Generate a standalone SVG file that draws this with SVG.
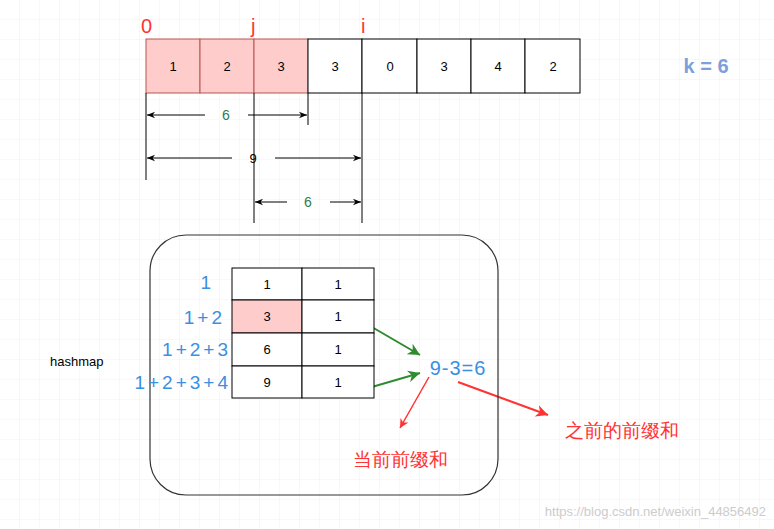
<svg xmlns="http://www.w3.org/2000/svg" width="774" height="529" viewBox="0 0 774 529">
<defs>
<style>
text{font-family:"Liberation Sans",Arial,sans-serif}
.c{fill:#fff;stroke:#000;stroke-width:1}
.p{fill:#ffcccc;stroke:#b85450;stroke-width:1}
.n{font-size:13px;text-anchor:middle;fill:#000}
.r{fill:#f33;font-size:20px}
.b{fill:#3b8fe0;font-size:19px;text-anchor:end;letter-spacing:3px}
.g{fill:#2e7d4f;font-size:14px;text-anchor:middle}
.l{stroke:#000;stroke-width:1;fill:none}
</style>
<marker id="a" viewBox="0 0 10 10" refX="10" refY="5" markerWidth="8" markerHeight="8" orient="auto"><path d="M0,1 L10,5 L0,9 L3,5z" fill="#000"/></marker>
<marker id="ag" viewBox="0 0 10 10" refX="10" refY="5" markerWidth="6" markerHeight="6" orient="auto"><path d="M0,0 L10,5 L0,10 L3,5z" fill="#2e8b2e"/></marker>
<marker id="ar" viewBox="0 0 10 10" refX="10" refY="5" markerWidth="6" markerHeight="6" orient="auto"><path d="M0,0 L10,5 L0,10 L3,5z" fill="#f33"/></marker>
<pattern id="grid" width="20" height="20" patternUnits="userSpaceOnUse"><path d="M20,0 V20 H0" fill="none" stroke="#f0f0f0"/></pattern>
</defs>
<rect width="774" height="529" fill="#fff"/>
<rect width="774" height="529" fill="url(#grid)"/>
<g id="array">
<rect class="p" x="146" y="39" width="54" height="54"/><text class="n" x="173" y="71">1</text>
<rect class="p" x="200" y="39" width="54" height="54"/><text class="n" x="227" y="71">2</text>
<rect class="p" x="254" y="39" width="54" height="54"/><text class="n" x="281" y="71">3</text>
<rect class="c" x="308" y="39" width="54" height="54"/><text class="n" x="335" y="71">3</text>
<rect class="c" x="362" y="39" width="55" height="54"/><text class="n" x="390" y="71">0</text>
<rect class="c" x="417" y="39" width="54" height="54"/><text class="n" x="444" y="71">3</text>
<rect class="c" x="471" y="39" width="54" height="54"/><text class="n" x="498" y="71">4</text>
<rect class="c" x="525" y="39" width="55" height="54"/><text class="n" x="553" y="71">2</text>
</g>
<g id="indices">
<text class="r" x="141" y="33">0</text>
<text class="r" x="251" y="33">j</text>
<text class="r" x="361" y="33">i</text>
<text x="706" y="73" font-size="20" font-weight="bold" fill="#7e9fd9" text-anchor="middle">k = 6</text>
</g>
<g id="connectors">
<path class="l" d="M146,93V180M254,93V223M308,93V125M362,93V223"/>
<path class="l" d="M205,115H147" marker-end="url(#a)"/><path class="l" d="M248,115H307" marker-end="url(#a)"/>
<text class="g" x="226" y="120">6</text>
<path class="l" d="M232,158H147" marker-end="url(#a)"/><path class="l" d="M275,158H361" marker-end="url(#a)"/>
<text class="n" x="253" y="163" font-size="14">9</text>
<path class="l" d="M287,202H255" marker-end="url(#a)"/><path class="l" d="M330,202H361" marker-end="url(#a)"/>
<text class="g" x="308" y="207">6</text>
<path d="M365,323L420,355" stroke="#2e8b2e" stroke-width="2" marker-end="url(#ag)"/>
<path d="M365,389L420,373" stroke="#2e8b2e" stroke-width="2" marker-end="url(#ag)"/>
<path d="M429,377L400,428" stroke="#f33" stroke-width="1.5" marker-end="url(#ar)"/>
<path d="M458,382L548,415" stroke="#f33" stroke-width="2" marker-end="url(#ar)"/>
</g>
<g id="hashmap">
<rect x="150" y="235" width="348" height="260" rx="36" fill="none" stroke="#333" stroke-width="1.2"/>
<rect class="c" x="232" y="268" width="70" height="32"/><text class="n" x="267" y="289">1</text>
<rect class="c" x="302" y="268" width="72" height="32"/><text class="n" x="338" y="289">1</text>
<rect x="232" y="300" width="70" height="33" fill="#ffcccc" stroke="#000"/><text class="n" x="267" y="321">3</text>
<rect class="c" x="302" y="300" width="72" height="33"/><text class="n" x="338" y="321">1</text>
<rect class="c" x="232" y="333" width="70" height="33"/><text class="n" x="267" y="354">6</text>
<rect class="c" x="302" y="333" width="72" height="33"/><text class="n" x="338" y="354">1</text>
<rect class="c" x="232" y="366" width="70" height="32"/><text class="n" x="267" y="387">9</text>
<rect class="c" x="302" y="366" width="72" height="32"/><text class="n" x="338" y="387">1</text>
<text class="b" x="214" y="289">1</text>
<text class="b" x="225" y="324">1+2</text>
<text class="b" x="231" y="356">1+2+3</text>
<text class="b" x="231" y="389">1+2+3+4</text>
<text x="50" y="366" font-size="13" fill="#000">hashmap</text>
<text x="458" y="375" font-size="20" fill="#3b8fe0" text-anchor="middle" letter-spacing="1">9-3=6</text>
<text x="400" y="466" font-size="19" fill="#f33" text-anchor="middle" font-family="'Noto Sans CJK SC',sans-serif">当前前缀和</text>
<text x="622" y="437" font-size="19" fill="#f33" text-anchor="middle" font-family="'Noto Sans CJK SC',sans-serif">之前的前缀和</text>
</g>
<text x="766" y="516" font-size="13" fill="#ccc" text-anchor="end">https://blog.csdn.net/weixin_44856492</text>
</svg>
